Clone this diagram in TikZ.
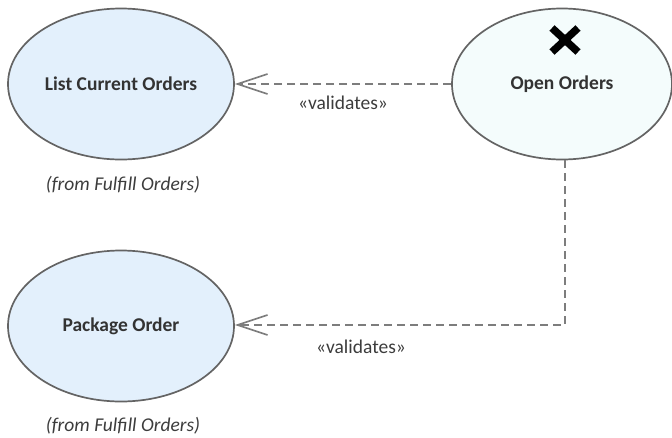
\documentclass[tikz,border=0pt]{standalone}
\usepackage{fontspec}
\setmainfont{Carlito}
\usetikzlibrary{arrows.meta,shapes.geometric}
\definecolor{ucfill}{RGB}{227,240,252}
\definecolor{ucopen}{RGB}{244,252,252}
\definecolor{ucline}{RGB}{100,100,100}
\definecolor{ucdash}{RGB}{125,125,125}
\definecolor{uctext}{RGB}{51,51,51}
\definecolor{uclabel}{RGB}{60,60,60}

\begin{document}
\begin{tikzpicture}[x=1pt,y=-1pt,
  usecase/.style={ellipse,draw=ucline,line width=1.7pt,fill=ucfill,
    minimum width=226pt,minimum height=151pt,inner sep=0pt,
    text=uctext,font=\fontsize{19.5}{22}\selectfont\bfseries},
  fromnote/.style={text=uclabel,font=\fontsize{19.5}{22}\selectfont\itshape},
  stereo/.style={text=uclabel,font=\fontsize{19.5}{22}\selectfont},
  depend/.style={draw=ucdash,line width=1.7pt,dash pattern=on 8pt off 5pt,
    -{Straight Barb[length=30pt,width=20pt,line width=1.7pt]}}]
  \useasboundingbox (0,0) rectangle (672,437);
  % use cases
  \node[usecase] (list) at (121,84) {List Current Orders};
  \node[usecase] (pack) at (121,326) {Package Order};
  \node[usecase,fill=ucopen,minimum width=220pt] (open) at (562,84) {Open Orders};
  \node[fromnote] (listfrom) at (123,185) {(from Fulfill Orders)};
  \node[fromnote] (packfrom) at (123,426) {(from Fulfill Orders)};
  % cross on Open Orders
  \draw[black,line width=7.5pt] (552,28) -- (578,52) (578,28) -- (552,52);
  % dependencies
  \coordinate (bend) at (565,325);
  \draw[depend] (open.west) -- (list.east);
  \draw[depend] (open.south -| bend) -- (bend) -- (bend -| pack.east);
  \node[stereo] (val1) at (343,103) {«validates»};
  \node[stereo] (val2) at (361,347) {«validates»};
\end{tikzpicture}
\end{document}
